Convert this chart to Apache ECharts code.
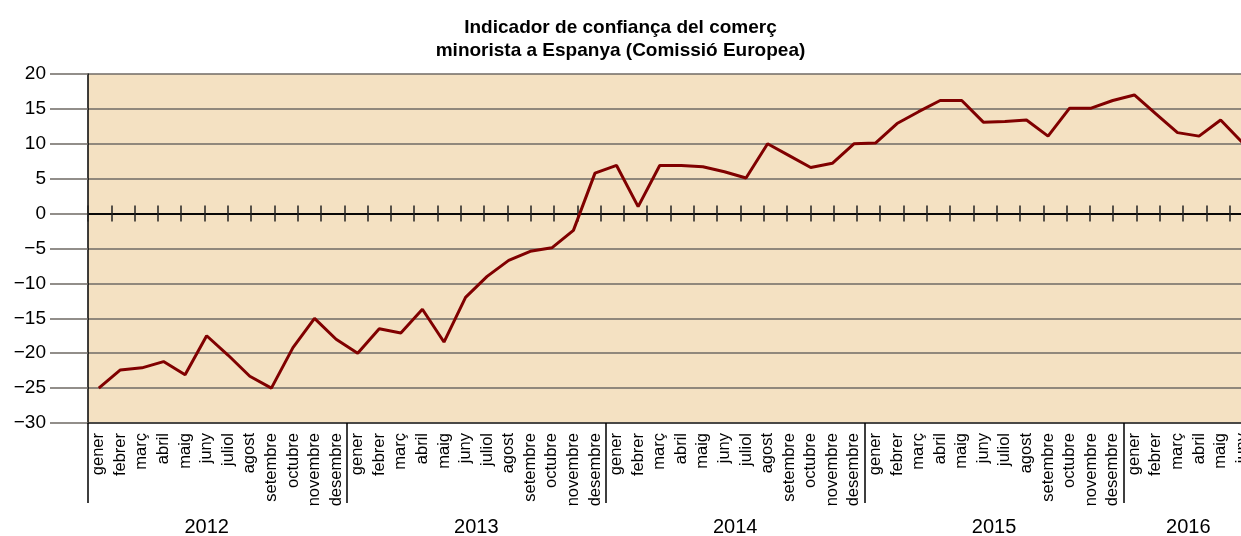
<!DOCTYPE html>
<html lang="ca">
<head>
    <meta charset="UTF-8">
    <title>Indicador de confiança del comerç minorista</title>
    <style>
        html, body { margin: 0; padding: 0; background: #fff; }
        #grafic { width: 1241px; height: 536px; }
    </style>
</head>
<body>
<div id="grafic"></div>
<script src="https://cdn.jsdelivr.net/npm/echarts@6/dist/echarts.min.js"></script>
<script>
    // mesos de l'eix x
    var nomsMesos = ['gener', 'febrer', 'març', 'abril', 'maig', 'juny', 'juliol',
        'agost', 'setembre', 'octubre', 'novembre', 'desembre'];
    var anys = ['2012', '2013', '2014', '2015', '2016'];
    // posicio (en mesos) on va l'etiqueta de cada any
    var posAnys = [5.5, 18, 30, 42, 51];

    // valors de l'indicador, un per mes
    var valors2012 = [-25.0, -22.4, -22.1, -21.2, -23.1, -17.5, -20.3, -23.3, -25.0, -19.2, -15.0, -18.0];
    var valors2013 = [-20.0, -16.5, -17.1, -13.7, -18.4, -12.0, -9.0, -6.7, -5.4, -4.9, -2.4, 5.8];
    var valors2014 = [6.9, 1.0, 6.9, 6.9, 6.7, 6.0, 5.1, 10.0, 8.3, 6.6, 7.2, 10.0];
    var valors2015 = [10.1, 12.9, 14.6, 16.2, 16.2, 13.1, 13.2, 13.4, 11.1, 15.1, 15.1, 16.2];
    var valors2016 = [17.0, 14.3, 11.6, 11.1, 13.4, 10.2];

    var mesos = [];
    for (var a = 0; a < 4; a++) {
        mesos = mesos.concat(nomsMesos);
    }
    mesos = mesos.concat(nomsMesos.slice(0, 6));
    var valors = valors2012.concat(valors2013, valors2014, valors2015, valors2016);

    // marques petites sobre la linia del zero
    var marquesZero = new Array(50).fill('');

    var font = '"Liberation Sans", Arial, sans-serif';
    var grisLinia = '#6f6a64';

    var myChart = echarts.init(document.getElementById('grafic'));
    var option = {
        animation: false,
        title: {
            text: 'Indicador de confiança del comerç\nminorista a Espanya (Comissió Europea)',
            left: 'center',
            top: 11,
            textStyle: {
                fontFamily: font,
                fontSize: 19,
                fontWeight: 'bold',
                color: '#000',
                lineHeight: 23
            }
        },
        grid: {
            left: 88,
            right: -12,
            top: 74,
            bottom: 113,
            outerBoundsMode: 'none',
            containLabel: false,
            show: true,
            backgroundColor: '#f4e1c2',
            borderWidth: 0
        },
        xAxis: [
            {
                // noms dels mesos
                type: 'category',
                position: 'bottom',
                data: mesos,
                boundaryGap: true,
                axisLine: { show: false, onZero: false },
                axisTick: { show: false },
                axisLabel: {
                    interval: 0,
                    rotate: 90,
                    margin: 10,
                    fontFamily: font,
                    fontSize: 16.5,
                    color: '#000'
                },
                splitLine: { show: false }
            },
            {
                // separadors d'anys
                type: 'category',
                position: 'bottom',
                data: mesos,
                boundaryGap: true,
                axisLine: { show: true, onZero: false, lineStyle: { color: '#333', width: 1.5 } },
                axisTick: {
                    show: true,
                    length: 80,
                    interval: function (index) { return index % 12 === 0; },
                    lineStyle: { color: '#000', width: 1.5 }
                },
                axisLabel: { show: false },
                splitLine: { show: false }
            },
            {
                // etiquetes dels anys
                type: 'value',
                position: 'bottom',
                min: 0,
                max: 54,
                interval: 0.5,
                axisLine: { show: false, onZero: false },
                axisTick: { show: false },
                splitLine: { show: false },
                axisLabel: {
                    margin: 94,
                    fontFamily: font,
                    fontSize: 20,
                    color: '#000',
                    showMinLabel: true,
                    showMaxLabel: true,
                    formatter: function (v) {
                        var i = posAnys.indexOf(v);
                        return i >= 0 ? anys[i] : '';
                    }
                }
            },
            {
                // linia del zero amb marques cap amunt
                type: 'category',
                position: 'bottom',
                data: marquesZero,
                boundaryGap: true,
                axisLine: { show: true, onZero: true, onZeroAxisIndex: 0, lineStyle: { color: '#000', width: 1.5 } },
                axisTick: { show: true, inside: true, length: 8, interval: 0, lineStyle: { color: '#222', width: 1.5 } },
                axisLabel: { show: false },
                splitLine: { show: false }
            },
            {
                // marques cap avall (sobre l'eix y auxiliar, que te el zero al mateix lloc)
                type: 'category',
                position: 'bottom',
                data: marquesZero,
                boundaryGap: true,
                axisLine: { show: true, onZero: true, onZeroAxisIndex: 1, lineStyle: { color: '#000', width: 1.5 } },
                axisTick: { show: true, inside: false, length: 8, interval: 0, lineStyle: { color: '#222', width: 1.5 } },
                axisLabel: { show: false },
                splitLine: { show: false }
            }
        ],
        yAxis: [
            {
                type: 'value',
                position: 'left',
                min: -30,
                max: 20,
                interval: 5,
                axisLine: { show: true, onZero: false, lineStyle: { color: '#000', width: 1.5 } },
                axisTick: { show: true, length: 38, lineStyle: { color: grisLinia, width: 1.5 } },
                axisLabel: {
                    margin: 42,
                    fontFamily: font,
                    fontSize: 19,
                    color: '#000',
                    formatter: function (v) {
                        return v < 0 ? '\u2212' + Math.abs(v) : String(v);
                    }
                },
                splitLine: { show: true, lineStyle: { color: grisLinia, width: 1.5 } }
            },
            {
                // eix auxiliar invisible, nomes per situar les marques
                type: 'value',
                position: 'right',
                min: -30,
                max: 20,
                interval: 5,
                axisLine: { show: false, onZero: false },
                axisTick: { show: false },
                axisLabel: { show: false },
                splitLine: { show: false }
            }
        ],
        series: [{
            type: 'line',
            xAxisIndex: 0,
            yAxisIndex: 0,
            data: valors,
            showSymbol: false,
            smooth: false,
            lineStyle: { color: '#800000', width: 3 },
            itemStyle: { color: '#800000' }
        }]
    };
    myChart.setOption(option);
</script>
</body>
</html>
